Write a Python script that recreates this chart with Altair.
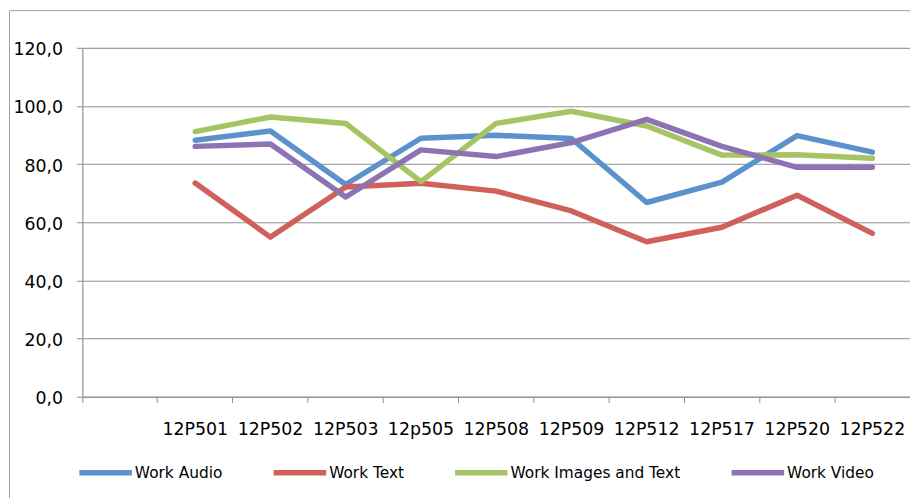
import altair as alt
import pandas as pd

categories = ["12P501", "12P502", "12P503", "12p505", "12P508",
              "12P509", "12P512", "12P517", "12P520", "12P522"]
series_names = ["Work Audio", "Work Text", "Work Images and Text", "Work Video"]
work_audio = [88.2, 91.4, 73.0, 88.9, 89.9, 88.8, 66.8, 73.8, 89.8, 84.1]
work_text = [73.5, 54.9, 72.1, 73.4, 70.7, 63.9, 53.3, 58.3, 69.3, 56.2]
work_images = [91.2, 96.2, 94.0, 74.0, 94.0, 98.2, 93.1, 83.1, 83.2, 82.0]
work_video = [86.1, 86.9, 68.7, 84.9, 82.6, 87.4, 95.4, 86.1, 78.9, 78.9]
colors = ["#5B92CB", "#D0605A", "#A6C463", "#8E73B3"]
y_ticks = [0, 20, 40, 60, 80, 100, 120]

rows = []
for name, vals in zip(series_names, [work_audio, work_text, work_images, work_video]):
    for c, v in zip(categories, vals):
        rows.append({"cat": c, "value": v, "series": name})
df = pd.DataFrame(rows)

x_domain = [""] + categories
GRID = "#8f8f8f"
FONT = "DejaVu Sans"

lines = alt.Chart(df).mark_line(
    strokeWidth=5.5, strokeCap="round", strokeJoin="round"
).encode(
    x=alt.X(
        "cat:N",
        bandPosition=0.5,
        scale=alt.Scale(type="band", domain=x_domain, paddingInner=0, paddingOuter=0),
        axis=alt.Axis(
            title=None, bandPosition=0, labelAngle=0,
            tickSize=6, labelPadding=18, grid=False,
            domainColor=GRID, tickColor=GRID, labelFont=FONT, labelFontSize=17.5,
            labelColor="#000000",
        ),
    ),
    y=alt.Y(
        "value:Q",
        scale=alt.Scale(domain=[0, 120], nice=False, zero=True),
        axis=alt.Axis(
            title=None, values=y_ticks,
            labelExpr="replace(format(datum.value, '.1f'), '.', ',')",
            tickSize=6, labelPadding=14, grid=True, gridColor=GRID,
            domainColor=GRID, tickColor=GRID, labelFont=FONT, labelFontSize=17.5,
            labelColor="#000000", labelOffset=2,
        ),
    ),
    color=alt.Color(
        "series:N",
        scale=alt.Scale(domain=series_names, range=colors),
        legend=alt.Legend(
            title=None, orient="none", legendX=-6, legendY=399,
            direction="horizontal", symbolType="stroke", symbolSize=2809,
            symbolStrokeWidth=5.5, labelFont=FONT, labelFontSize=15.5,
            labelColor="#000000", labelOffset=0, labelLimit=400,
            columnPadding=40, padding=0,
        ),
    ),
)

frame_src = pd.DataFrame({"k": [0]})
frame_left = alt.Chart(frame_src).mark_rule(color="#a0a0a0", strokeWidth=1).encode(
    x=alt.value(-73.5), y=alt.value(-37.5), y2=alt.value(470)
)
frame_top = alt.Chart(frame_src).mark_rule(color="#a0a0a0", strokeWidth=1).encode(
    x=alt.value(-73.5), x2=alt.value(840), y=alt.value(-37.5)
)

chart = alt.layer(frame_left, frame_top, lines).properties(
    width=835, height=352,
    autosize=alt.AutoSizeParams(type="none"),
    padding={"left": 75, "top": 38, "right": 0, "bottom": 100},
).configure_view(stroke=None).configure(background="white")

chart.save("out.html", embed_options={"renderer": "svg", "actions": False})
